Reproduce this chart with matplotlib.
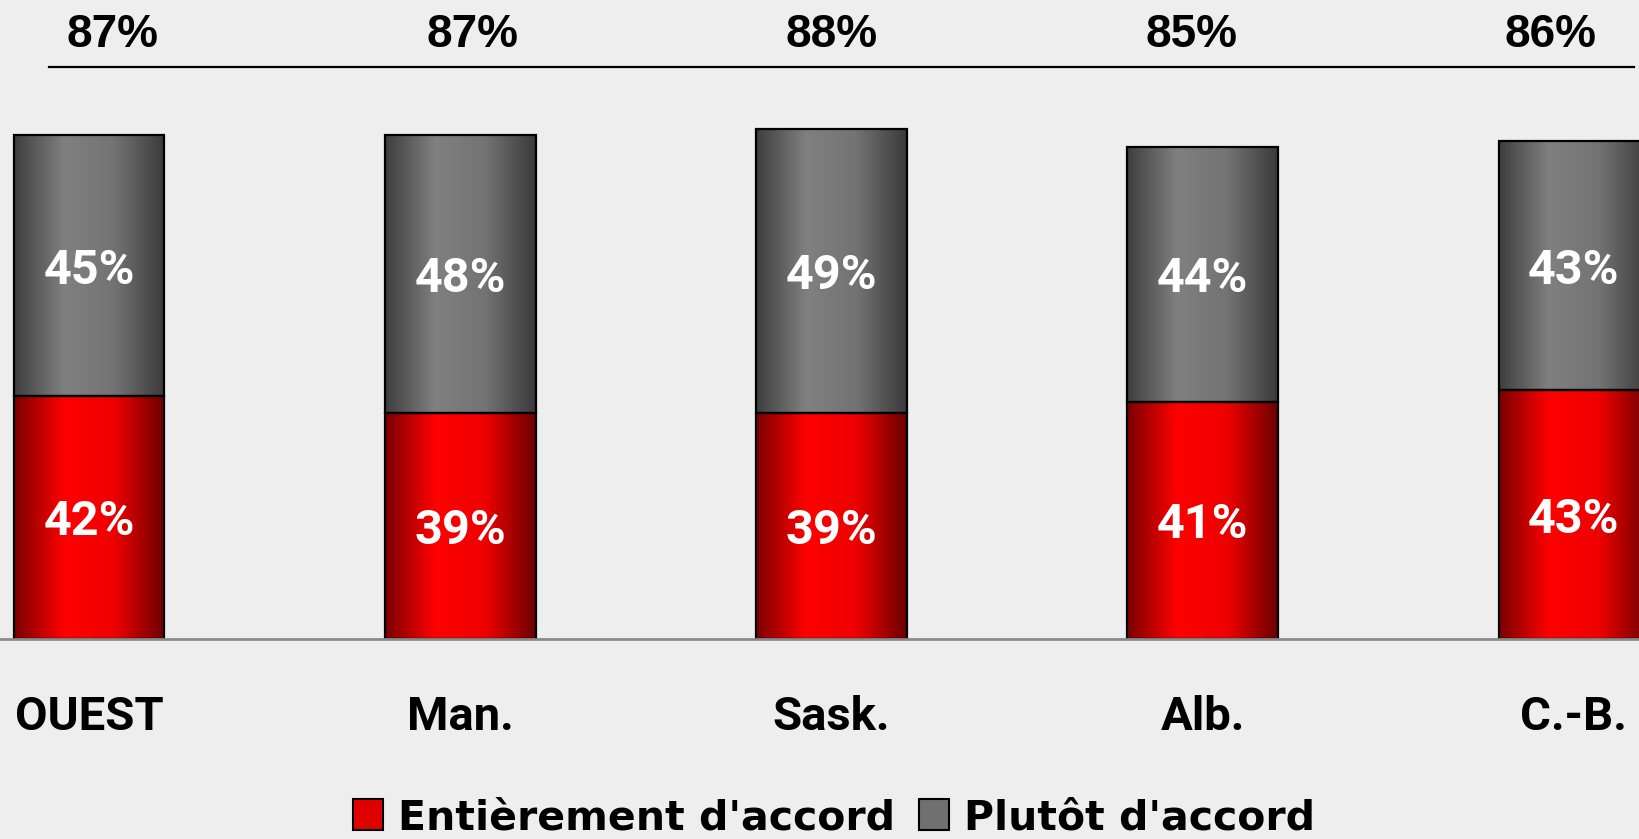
import matplotlib.pyplot as plt
import numpy as np
from matplotlib.colors import LinearSegmentedColormap
from matplotlib.lines import Line2D
from matplotlib.patches import Rectangle

regions = ['OUEST', 'Man.', 'Sask.', 'Alb.', 'C.-B.']
entierement = [42, 39, 39, 41, 43]   # Entièrement d'accord
plutot = [45, 48, 49, 44, 43]        # Plutôt d'accord
totals = [87, 87, 88, 85, 86]

bg = '#eeeeee'
red_map = LinearSegmentedColormap.from_list('r', ['#7a0000', '#ff0000', '#ee0000', '#6c0000'])
gray_map = LinearSegmentedColormap.from_list('g', ['#3e3e3e', '#808080', '#737373', '#3a3a3a'])

fig = plt.figure(figsize=(16.4, 8.39), dpi=100, facecolor=bg)
ax = fig.add_axes([0, 200 / 839, 1, 639 / 839])
ax.set_facecolor(bg)

x = np.arange(len(regions))
w = 0.406
grad = np.linspace(0, 1, 256).reshape(1, -1)

red_bars = ax.bar(x, entierement, w, facecolor='none', edgecolor='black', linewidth=1.6, zorder=3)
gray_bars = ax.bar(x, plutot, w, bottom=entierement, facecolor='none', edgecolor='black',
                   linewidth=1.6, zorder=3)

# horizontal gradient inside each bar, clipped to the bar shape
for bars, cmap in [(red_bars, red_map), (gray_bars, gray_map)]:
    for p in bars:
        im = ax.imshow(grad, cmap=cmap, aspect='auto', zorder=2,
                       extent=[p.get_x(), p.get_x() + p.get_width(), p.get_y(), p.get_y() + p.get_height()])
        im.set_clip_path(p)

lab_font = dict(family='Roboto', weight='bold', fontsize=35, color='white')
for i in range(len(regions)):
    ax.text(x[i], entierement[i] / 2, f'{entierement[i]}%', ha='center', va='center_baseline', **lab_font)
    ax.text(x[i], entierement[i] + plutot[i] / 2, f'{plutot[i]}%', ha='center', va='center_baseline', **lab_font)

ax.set_xlim(-0.24, 4.178)
ax.set_ylim(0, 639 / 5.79)
ax.set_yticks([])
ax.set_xticks(x)
ax.set_xticklabels(regions, family='Roboto', weight='bold', fontsize=34)
ax.tick_params(axis='x', length=0, pad=40)
for s in ['top', 'left', 'right']:
    ax.spines[s].set_visible(False)
ax.spines['bottom'].set_color('#8a8a8a')
ax.spines['bottom'].set_linewidth(2)
ax.spines['bottom'].set_zorder(4)

# totals row above the chart
top_x = np.linspace(113, 1551, len(totals)) / 1640
for tx, t in zip(top_x, totals):
    fig.text(tx, 1 - 35 / 839, f'{t}%', ha='center', va='center', family='Liberation Sans',
             weight='bold', fontsize=33, color='black')
fig.add_artist(Line2D([49 / 1640, 1634 / 1640], [1 - 66.7 / 839] * 2, color='black', lw=1.6))

handles = [Rectangle((0, 0), 1, 1, facecolor='#e00000', edgecolor='black', lw=1.5),
           Rectangle((0, 0), 1, 1, facecolor='#707070', edgecolor='black', lw=1.5)]
fig.legend(handles, ["Entièrement d'accord", "Plutôt d'accord"], loc='center',
           bbox_to_anchor=(834 / 1640, 1 - 818 / 839), ncol=2, frameon=False,
           prop=dict(family='DejaVu Sans', weight='bold', size=29.5),
           handlelength=0.73, handleheight=0.78, handletextpad=0.37, columnspacing=0.57,
           borderaxespad=0, borderpad=0)

fig.savefig('out.png', dpi=100, facecolor=bg)
